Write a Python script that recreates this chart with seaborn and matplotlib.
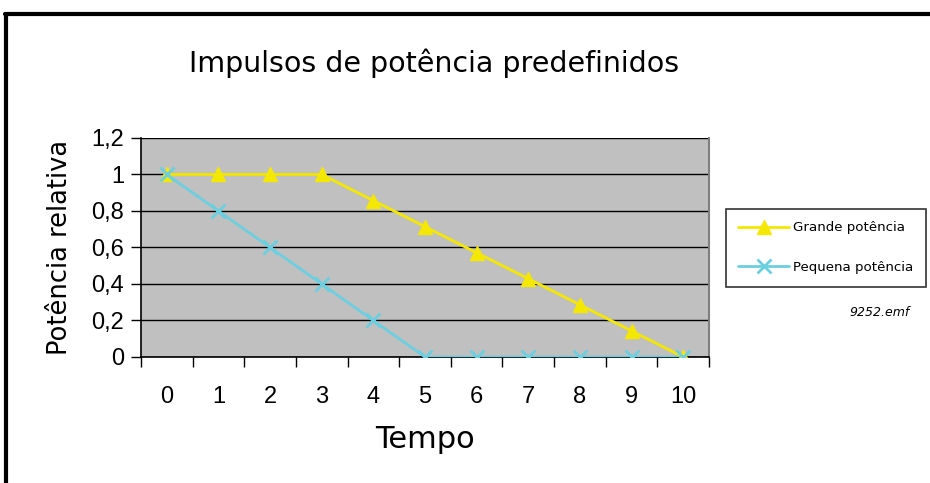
import numpy as np
import pandas as pd
import matplotlib
matplotlib.use("Agg")
import matplotlib.pyplot as plt
import seaborn as sns
from matplotlib.lines import Line2D
from matplotlib.ticker import FixedLocator, FuncFormatter

tempo = list(range(11))
grande = [1, 1, 1, 1, 0.857, 0.714, 0.571, 0.429, 0.286, 0.143, 0]
pequena = [1, 0.8, 0.6, 0.4, 0.2, 0, 0, 0, 0, 0, 0]
series_names = ["Grande potência", "Pequena potência"]
y_ticks = [0, 0.2, 0.4, 0.6, 0.8, 1, 1.2]

sns.set_theme(style="white")
plt.rcParams["font.family"] = ["Liberation Sans", "DejaVu Sans"]
plt.rcParams["text.color"] = "black"
plt.rcParams["axes.labelcolor"] = "black"
plt.rcParams["xtick.color"] = "black"
plt.rcParams["ytick.color"] = "black"

colors = ["#F5E800", "#6CCFE0"]
marker_list = ["^", "x"]

fig = plt.figure(figsize=(9.3, 4.83), dpi=100)
ax = fig.add_axes([0.1516, 0.2609, 0.6108, 0.4534])
ax.set_facecolor("#C0C0C0")

for vals, name, col, mk in zip([grande, pequena], series_names, colors, marker_list):
    sns.lineplot(x=tempo, y=vals, color=col, marker=mk, linewidth=2, markersize=10,
                 markeredgewidth=2 if mk == "x" else 1, markeredgecolor=col,
                 ax=ax, label=name, legend=False, zorder=3)

ax.set_xlim(-0.5, 10.5)
ax.set_ylim(0, 1.2)
ax.set_yticks(y_ticks)
ax.yaxis.set_major_formatter(FuncFormatter(lambda v, p: f"{v:g}".replace(".", ",")))
ax.set_xticks(tempo)
ax.xaxis.set_minor_locator(FixedLocator(np.arange(-0.5, 11, 1)))
ax.tick_params(axis="x", which="major", length=0, pad=21, labelsize=17)
ax.tick_params(axis="x", which="minor", length=7, width=1, direction="out", color="black", bottom=True)
ax.tick_params(axis="y", which="major", length=7, width=1, direction="out", color="black",
               left=True, labelsize=17, pad=5)
ax.grid(axis="y", color="black", linewidth=1)
ax.set_axisbelow(True)

for side in ["left", "bottom"]:
    ax.spines[side].set_color("black")
    ax.spines[side].set_linewidth(1.2)
ax.spines["right"].set_color("#808080")
ax.spines["right"].set_linewidth(1.5)
ax.spines["top"].set_visible(False)

ax.set_xlabel("Tempo", fontsize=22, family=["DejaVu Sans"], labelpad=12)
ax.set_ylabel("Potência relativa", fontsize=18.5, family=["DejaVu Sans"], labelpad=13)
fig.text(0.467, 0.87, "Impulsos de potência predefinidos", ha="center", va="center",
         fontsize=20.5, family=["DejaVu Sans"])

handles = [
    Line2D([0], [0], color=colors[0], marker="^", linewidth=2, markersize=10),
    Line2D([0], [0], color=colors[1], marker="x", linewidth=2, markersize=10, markeredgewidth=2),
]
leg = fig.legend(handles, series_names, loc="center", bbox_to_anchor=(0.888, 0.487),
                 frameon=True, fancybox=False, edgecolor="black",
                 handlelength=3.8, borderpad=0.95, borderaxespad=0, labelspacing=2.0,
                 handletextpad=0.3, prop={"family": ["DejaVu Sans"], "size": 9.6})
leg.get_frame().set_linewidth(1.2)

fig.text(0.978, 0.352, "9252.emf", ha="right", va="center", fontsize=9, style="italic",
         family=["DejaVu Sans"])

# frame around the figure
fig.add_artist(Line2D([0.005, 1.0], [0.971, 0.971], color="black", linewidth=3,
                      transform=fig.transFigure))
fig.add_artist(Line2D([0.006, 0.006], [0.0, 0.971], color="black", linewidth=3,
                      transform=fig.transFigure))

fig.savefig("out.png", dpi=100)
